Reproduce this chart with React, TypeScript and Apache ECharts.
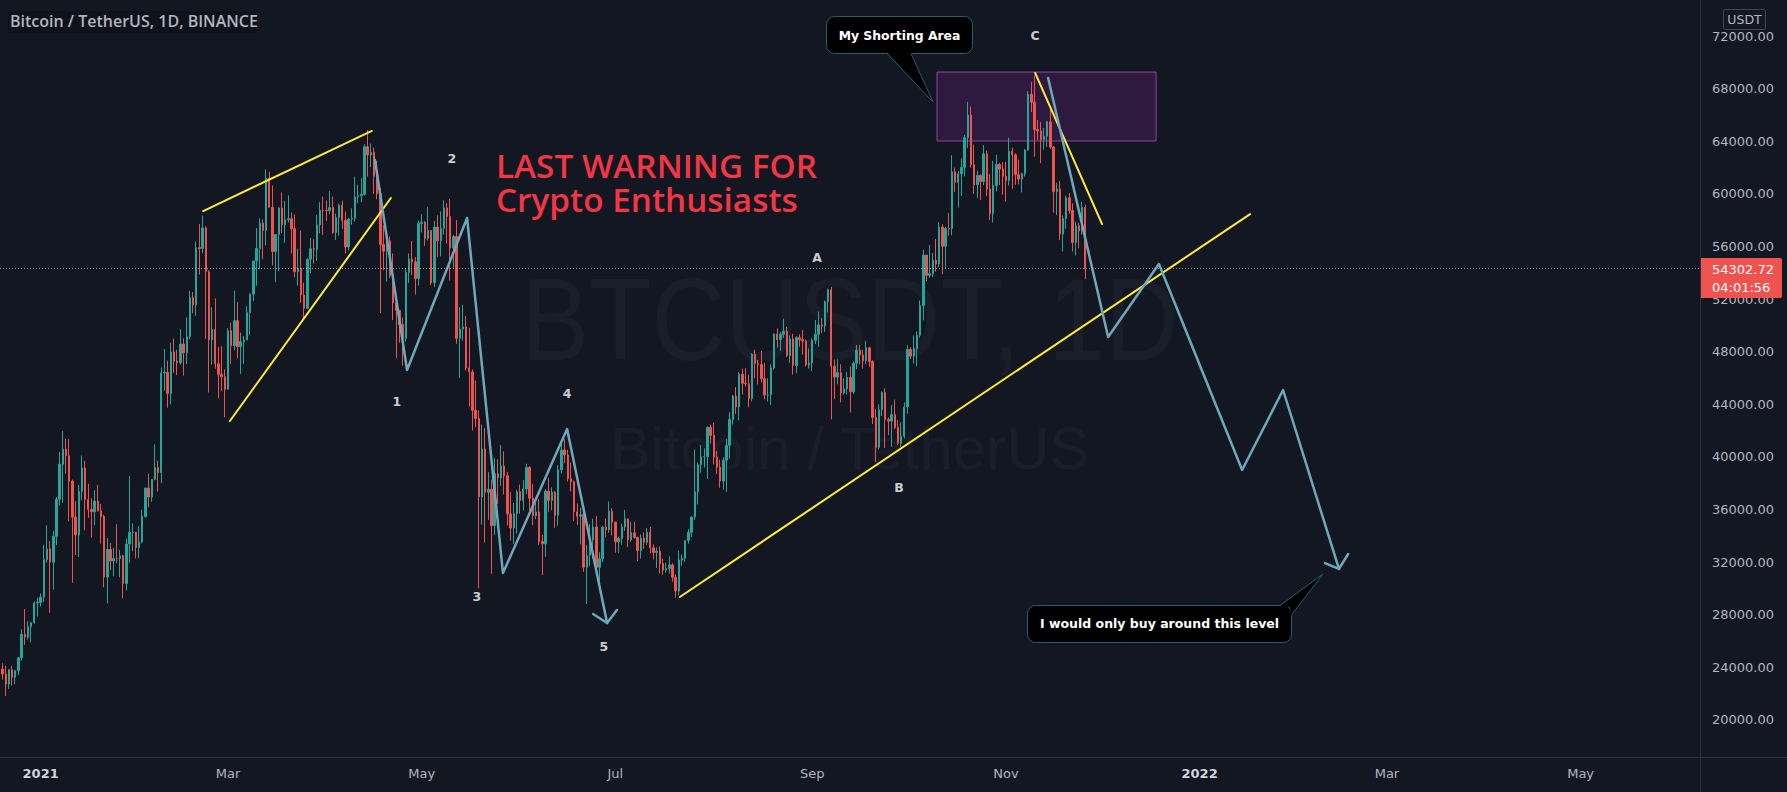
import React, { useEffect, useRef } from 'react';
import * as echarts from 'echarts';

// ---------------- DATA ----------------
// Daily BTCUSDT candles, each day as [close, high, low]; a day's open is the previous day's close.
const FIRST_DATE = '2020-12-20';
const FIRST_OPEN = 23860;
const AXIS_ORIGIN = '2021-01-01';

const dec2020 = [[23477,24295,23060],[22720,24102,21815],[23810,23837,22353],[23232,24100,22600],[23729,23789,22703],[24712,24789,23400],[26493,26867,24500],[26282,28422,25700],[27079,27500,26101],[27385,27410,25880],[28875,28996,27320],[28923,29300,27850]];
const jan2021 = [[29331,29600,28624],[32178,33300,28946],[33000,34778,31962],[31989,33600,28130],[33949,34360,29900],[36769,36939,33288],[39432,40365,36300],[40582,41950,36500],[40088,41380,38720],[38150,41350,35111],[35404,38264,30420],[34051,36628,32531],[37372,37850,32380],[39144,40100,36701],[36742,39700,34408],[35994,37950,35357],[35828,36852,33850],[36631,37469,34800],[35891,37850,35844],[35468,36415,33400],[30850,35600,30071],[32945,33826,28850],[32078,33456,31390],[32260,33071,30900],[32254,34875,31910],[32467,32921,30837],[30366,32557,29241],[33364,33783,29842],[34252,38531,31915],[34262,34933,32825],[33092,34288,32270]];
const feb2021 = [[33526,34717,32296],[35466,35984,33418],[37618,37662,35362],[36936,38708,36161],[38290,38310,36570],[39186,40955,38215],[38795,39700,37351],[46374,46794,37988],[46420,48200,45020],[44807,47310,43727],[47969,48678,43994],[47287,48985,46400],[47153,48150,46202],[48577,49707,47014],[47911,49010,46174],[49133,50600,47047],[52119,52618,48947],[51552,52530,50901],[55906,56368,50710],[55841,57700,53863],[57408,58352,55477],[54087,57533,48967],[48891,54183,44892],[49676,51374,47003],[47073,52041,46700],[46276,48370,44454],[46106,48394,45000],[45135,46638,43000]];
const mar2021 = [[49587,49790,45115],[48440,50200,47047],[50349,52640,48100],[48374,51773,47500],[48751,49448,46300],[48882,49200,47070],[50971,51450,48882],[52375,52402,49274],[54884,54900,51845],[55851,57387,53005],[57773,58150,54269],[57221,58058,55013],[61188,61844,56078],[58968,61683,58966],[55605,60633,54568],[56900,56938,53271],[58912,58981,54120],[57648,60100,57023],[58030,59468,56270],[58102,59880,57820],[57351,58589,55450],[54083,58430,53650],[54340,55830,53000],[52303,57200,51700],[51293,53229,50427],[55025,55073,51283],[55817,56640,53966],[55777,56559,54691],[57635,58405,54900],[58746,59368,57000],[58740,59800,56873]];
const apr2021 = [[58720,59490,57935],[58950,60200,58446],[57052,59792,56956],[58202,58493,56478],[59129,59250,56817],[57991,59474,57333],[55953,58650,55473],[58077,58153,55700],[58142,58894,57654],[59769,61300,57887],[59860,60687,59287],[59964,61200,59368],[63578,63777,59869],[62959,64854,61301],[63159,63821,62021],[61334,63520,60000],[60006,62506,59580],[56150,60445,50931],[55633,57600,54187],[56425,57074,53329],[53787,56757,53600],[51690,55460,50400],[51125,52131,47500],[50047,51167,48676],[49004,50591,46930],[54021,54356,48753],[55033,55460,53222],[54824,56428,53813],[53555,55195,52330],[57750,57963,53013]];
const may2021 = [[57828,58458,57052],[56610,57911,56035],[57213,58981,56440],[53241,57200,53046],[57473,57939,52900],[56428,58360,55200],[57380,58650,55241],[58928,59500,56900],[58280,59300,56235],[55883,59600,53400],[56750,56870,54370],[49007,58000,48600],[49716,51367,46000],[49880,51560,48825],[46760,50700,46555],[46456,49800,43825],[43538,46643,42001],[42909,45799,42250],[36964,43546,30000],[40596,42451,34850],[37304,42200,33488],[37536,38829,35200],[34770,38270,31111],[38705,39920,34037],[38402,39800,36420],[39294,40900,37800],[38556,40411,37134],[35658,38856,34779],[34584,37338,33632],[35678,36488,33379],[37341,37499,34153]];
const jun2021 = [[36677,37896,35666],[37556,38225,35920],[39188,39476,37170],[36856,39289,35555],[35520,37925,34800],[35797,36480,35258],[33552,36800,33300],[33380,34068,31000],[37388,37534,32397],[36675,38400,35782],[37314,37680,35936],[35546,37400,34600],[39020,39380,34757],[40516,41064,38730],[40144,41330,39506],[38349,40527,38116],[38092,39559,37365],[35820,38200,35129],[35483,36457,34803],[35600,36137,33336],[31608,35750,31251],[32510,33298,28805],[33678,34881,31683],[34664,35298,32286],[31594,35500,31275],[32243,32730,30151],[34649,34749,32003],[34434,35297,33862],[35867,36600,34225],[35041,36100,34017]];
const jul2021 = [[33543,35036,32711],[33786,33939,32699],[34669,34909,33310],[35286,35967,34357],[33690,35293,33125],[34220,35059,33542],[33862,35056,33770],[32875,33929,32077],[33815,34100,32261],[33502,34262,33005],[34259,34592,33300],[33086,34679,32658],[32730,33340,32202],[32820,33114,31550],[31880,33185,31133],[31383,32249,31020],[31520,31949,31179],[31778,32435,31108],[30839,31899,30509],[29790,31063,29278],[32144,32858,29482],[32287,32576,31708],[33634,33650,32000],[34258,34500,33402],[35425,35450,33881],[37337,40550,35205],[39406,39542,36383],[39995,40900,38772],[40008,40640,39200],[42236,42316,38313],[41626,42448,41000]];
const aug2021 = [[39975,42599,39422],[39201,40445,38690],[38153,39780,37642],[39747,39969,37508],[40870,41350,37332],[42836,43392,39853],[44614,44700,42450],[43792,45310,43261],[46285,46454,42779],[45593,46700,44742],[45555,46743,45341],[44428,46218,43770],[47793,47886,44217],[47097,48144,45971],[47019,47372,45500],[45936,48053,45660],[44696,47160,44376],[44705,45969,44203],[46760,47033,43955],[49339,49382,46622],[48905,49757,48300],[49321,49500,48050],[49546,50500,49034],[47706,49870,47600],[48960,49238,47150],[46942,49347,46250],[49058,49169,46363],[48903,49309,48370],[48807,49640,47768],[46991,48909,46870],[47130,48250,46700]];
const sep2021 = [[48847,49000,46512],[49327,50400,48584],[50026,51051,48371],[49944,50558,49412],[51789,51900,49500],[52698,52781,50969],[46894,52920,42843],[46060,47381,44412],[46400,47400,45514],[44851,47033,44132],[45171,45987,44722],[46026,46460,44750],[44940,46880,43370],[47111,47250,44750],[48122,48500,46671],[47737,48486,47026],[47299,48150,46700],[48292,48818,47044],[47242,48369,46850],[42986,47331,42500],[40716,43639,39600],[43574,44000,40570],[44895,44978,43090],[42839,45200,40675],[42716,42970,41646],[43208,43950,40750],[42235,44350,42098],[41034,42787,40888],[41564,42636,40753],[43790,44132,41410]];
const oct2021 = [[48165,48495,43283],[47657,48336,47430],[48233,49228,47088],[49245,49536,46891],[51493,51886,49056],[55340,55750,50382],[53797,55333,53357],[53926,56100,53617],[54949,55490,53661],[54659,56561,54080],[57471,57839,54415],[56005,57680,53879],[57367,57500,54300],[57347,58532,56818],[61672,62933,56850],[60875,62000,60150],[61528,61720,58963],[62010,62675,59844],[64262,64486,61322],[65992,67000,63481],[62210,66639,62000],[60692,63732,60000],[61393,61747,59668],[60930,61490,59522],[63040,63710,60650],[60363,63293,59817],[58482,61496,58000],[60622,62499,57820],[62227,62980,60174],[61888,62359,60673],[61319,62405,59945]];
const nov2021 = [[61004,62437,59405],[63227,64270,60624],[62970,63500,60382],[61452,63086,60677],[61125,62600,60721],[61527,61600,60111],[63326,63400,61322],[67566,67789,63300],[66971,68524,66222],[64882,69000,62822],[64774,65600,64100],[64122,65460,62333],[64381,65000,63360],[65466,65550,63576],[63557,66401,63400],[60161,63617,58574],[60368,60840,58373],[56942,60977,56474],[58119,58360,55600],[59697,59845,57353],[58731,60050,58479],[56289,59267,55610],[57569,57875,55317],[57177,57803,55837],[58961,59398,56900],[54302.72,59183,53500]];
const months = [dec2020, jan2021, feb2021, mar2021, apr2021, may2021, jun2021, jul2021, aug2021, sep2021, oct2021, nov2021];

// Axis ticks
const PRICE_TICKS = [20000, 24000, 28000, 32000, 36000, 40000, 44000, 48000, 52000, 56000, 60000, 64000, 68000, 72000];
const TIME_TICK_DATES = ['2021-01-01', '2021-03-01', '2021-05-01', '2021-07-01', '2021-09-01', '2021-11-01', '2022-01-01', '2022-03-01', '2022-05-01'];
const TIME_TICK_LABELS = ['2021', 'Mar', 'May', 'Jul', 'Sep', 'Nov', '2022', 'Mar', 'May'];

// Drawings, as [day since 2021-01-01, price]
const upperWedge = [[51.2, 58690], [104.3, 64780]];
const lowerWedge = [[59.6, 42720], [110.3, 59680]];
const supportLine = [[201.3, 29340], [380.9, 58460]];
const topLine = [[313.2, 69190], [334.3, 57700]];
const impulsePath = [[105.3, 62570], [115.4, 46600], [134.3, 58160], [145.6, 31160], [165.8, 42110], [178.4, 27360]];
const impulseArrow = [[174.0, 28050], [178.4, 27360], [181.5, 28350]];
const projectionPath = [[317.3, 68810], [336.2, 49110], [352.2, 54660], [378.4, 39000], [391.3, 45080], [408.9, 31470]];
const projectionArrow = [[404.5, 31920], [408.9, 31470], [411.8, 32610]];
const shortZone = [[282.3, 69260], [351.3, 64015]];
const waveLabelNames = ['1', '2', '3', '4', '5', 'A', 'B', 'C'];
const waveLabelPoints = [[112.2, 44170], [129.5, 62650], [137.4, 29340], [165.8, 44780], [177.4, 25610], [244.5, 55190], [270.3, 37700], [313.2, 72076]];

const LAST_PRICE = 54302.72;
const COUNTDOWN = '04:01:56';

// Visible ranges of the axes
const X_MIN = -12.8;
const X_MAX = 522.6;
const Y_MIN = 17171;
const Y_MAX = 74738;

// ---------------- HELPERS ----------------
const DAY_MS = 86400000;
const dayIndex = (s: string) => Math.round((Date.parse(s) - Date.parse(AXIS_ORIGIN)) / DAY_MS);

function buildCandles() {
  const out: number[][] = [];
  let d = dayIndex(FIRST_DATE);
  let open = FIRST_OPEN;
  for (const m of months) {
    for (const [c, h, l] of m) {
      out.push([d, open, c, l, h]);
      open = c;
      d += 1;
    }
  }
  return out;
}

const UP = '#26A69A';
const DOWN = '#EF5350';
const YELLOW = '#FFEB3B';
const STEEL = '#6FA8BA';
const AXIS_TEXT = '#B2B5BE';
const EDGE = '#22616E';
const BG = '#131722';

function lineSeries(data: number[][], color: string, width: number) {
  return {
    type: 'line',
    data,
    symbol: 'none',
    silent: true,
    z: 4,
    lineStyle: { color, width, cap: 'round', join: 'round' },
  };
}

function buildOption() {
  const tickDays = TIME_TICK_DATES.map(dayIndex);
  const candles = buildCandles();
  return {
    animation: false,
    backgroundColor: BG,
    grid: { left: 0, right: 87, top: 0, bottom: 35, containLabel: false, outerBoundsMode: 'none' },
    xAxis: {
      type: 'value',
      min: X_MIN,
      max: X_MAX,
      axisLine: { show: false },
      axisTick: { show: false },
      splitLine: { show: false },
      axisLabel: {
        customValues: tickDays,
        color: AXIS_TEXT,
        fontSize: 13,
        fontFamily: 'DejaVu Sans',
        margin: 10,
        formatter: (v: number) => {
          const i = tickDays.indexOf(Math.round(v));
          if (i < 0) return '';
          const t = TIME_TICK_LABELS[i];
          return /^\d{4}$/.test(t) ? '{yr|' + t + '}' : t;
        },
        rich: { yr: { color: '#D1D4DC', fontWeight: 'bold', fontSize: 13, fontFamily: 'DejaVu Sans' } },
      },
    },
    yAxis: {
      type: 'value',
      position: 'right',
      min: Y_MIN,
      max: Y_MAX,
      axisLine: { show: false },
      axisTick: { show: false },
      splitLine: { show: false },
      axisLabel: {
        customValues: PRICE_TICKS,
        color: AXIS_TEXT,
        fontSize: 13,
        fontFamily: 'DejaVu Sans',
        margin: 12,
        align: 'left',
        formatter: (v: number) => v.toFixed(2),
      },
    },
    series: [
      {
        type: 'candlestick',
        data: candles,
        barWidth: 1.9,
        z: 2,
        silent: true,
        itemStyle: { color: UP, color0: DOWN, borderColor: UP, borderColor0: DOWN, borderWidth: 1 },
        markLine: {
          silent: true,
          symbol: ['none', 'none'],
          label: { show: false },
          lineStyle: { color: 'rgba(190,193,200,0.75)', type: [1, 2], width: 1 },
          data: [{ yAxis: LAST_PRICE }],
        },
        markArea: {
          silent: true,
          itemStyle: { color: 'rgba(156,39,176,0.2)', borderColor: 'rgba(171,71,188,0.85)', borderWidth: 1 },
          data: [[{ coord: shortZone[0] }, { coord: shortZone[1] }]],
        },
      },
      lineSeries(upperWedge, YELLOW, 2),
      lineSeries(lowerWedge, YELLOW, 2),
      lineSeries(supportLine, YELLOW, 2),
      lineSeries(topLine, YELLOW, 2),
      lineSeries(impulsePath, STEEL, 2.5),
      lineSeries(impulseArrow, STEEL, 2.5),
      lineSeries(projectionPath, STEEL, 2.5),
      lineSeries(projectionArrow, STEEL, 2.5),
      {
        type: 'scatter',
        silent: true,
        z: 6,
        symbolSize: 1,
        itemStyle: { color: 'rgba(0,0,0,0)' },
        data: waveLabelPoints.map((p, i) => ({ name: waveLabelNames[i], value: p })),
        label: {
          show: true,
          position: 'inside',
          formatter: '{b}',
          color: '#FFFFFF',
          fontWeight: 'bold',
          fontSize: 12.5,
          fontFamily: 'DejaVu Sans',
        },
      },
    ],
    graphic: [
      // watermark
      { type: 'text', silent: true, z: 0, x: 850, y: 319, scaleY: 1.15,
        style: { text: 'BTCUSDT, 1D', fontSize: 102, fontFamily: 'Liberation Sans', fill: 'rgba(255,255,255,0.03)', align: 'center', verticalAlign: 'middle' } },
      { type: 'text', silent: true, z: 0, x: 850, y: 448,
        style: { text: 'Bitcoin / TetherUS', fontSize: 60, fontFamily: 'Liberation Sans', fill: 'rgba(255,255,255,0.03)', align: 'center', verticalAlign: 'middle' } },
      // pane separators
      { type: 'line', silent: true, z: 50, shape: { x1: 0, y1: 757.5, x2: 1787, y2: 757.5 }, style: { stroke: '#2E323E', lineWidth: 1 } },
      { type: 'line', silent: true, z: 50, shape: { x1: 1700.5, y1: 0, x2: 1700.5, y2: 792 }, style: { stroke: '#2E323E', lineWidth: 1 } },
      // title
      { type: 'rect', silent: true, z: 100, shape: { x: 8, y: 11, width: 248, height: 22 }, style: { fill: 'rgba(0,0,0,0.2)' } },
      { type: 'text', silent: true, z: 101, x: 10, y: 21,
        style: { text: 'Bitcoin / TetherUS, 1D, BINANCE', fontSize: 16, fontWeight: 600, fontFamily: 'Open Sans', fill: AXIS_TEXT, align: 'left', verticalAlign: 'middle' } },
      // headline (two lines in one text)
      { type: 'text', silent: true, z: 100, x: 496, y: 182,
        style: { text: 'LAST WARNING FOR\nCrypto Enthusiasts', fontSize: 33.3, lineHeight: 34.5, fontWeight: 600, fontFamily: 'Open Sans', fill: '#F23645', align: 'left', verticalAlign: 'middle' } },
      // callout: My Shorting Area
      { type: 'rect', silent: true, z: 100, shape: { x: 826.5, y: 16.5, width: 146, height: 37, r: 8 }, style: { fill: '#000000', stroke: EDGE, lineWidth: 1 } },
      { type: 'polygon', silent: true, z: 101, shape: { points: [[887, 52], [911, 52], [933, 102]] }, style: { fill: '#000000' } },
      { type: 'polyline', silent: true, z: 102, shape: { points: [[887, 53.5], [933, 102], [911, 53.5]] }, style: { stroke: EDGE, lineWidth: 1, fill: null } },
      { type: 'text', silent: true, z: 103, x: 899.5, y: 35,
        style: { text: 'My Shorting Area', fontSize: 12.4, fontWeight: 'bold', fontFamily: 'DejaVu Sans', fill: '#FFFFFF', align: 'center', verticalAlign: 'middle' } },
      // callout: I would only buy around this level
      { type: 'rect', silent: true, z: 100, shape: { x: 1027.5, y: 605.5, width: 264, height: 37, r: 8 }, style: { fill: '#000000', stroke: EDGE, lineWidth: 1 } },
      { type: 'polygon', silent: true, z: 101, shape: { points: [[1279, 607], [1323, 574], [1291, 616], [1290, 607]] }, style: { fill: '#000000' } },
      { type: 'polyline', silent: true, z: 102, shape: { points: [[1280, 605.5], [1323, 574], [1291.5, 615]] }, style: { stroke: EDGE, lineWidth: 1, fill: null } },
      { type: 'text', silent: true, z: 103, x: 1159.5, y: 623.5,
        style: { text: 'I would only buy around this level', fontSize: 12.5, fontWeight: 'bold', fontFamily: 'DejaVu Sans', fill: '#FFFFFF', align: 'center', verticalAlign: 'middle' } },
      // currency box
      { type: 'rect', silent: true, z: 100, shape: { x: 1723.5, y: 9.5, width: 42, height: 20, r: 2 }, style: { fill: BG, stroke: '#434651', lineWidth: 1 } },
      { type: 'text', silent: true, z: 101, x: 1744.5, y: 19.5,
        style: { text: 'USDT', fontSize: 12.5, fontFamily: 'DejaVu Sans', fill: AXIS_TEXT, align: 'center', verticalAlign: 'middle' } },
      // last price tag
      { type: 'rect', silent: true, z: 100, shape: { x: 1701, y: 258, width: 81, height: 40, r: [0, 2, 2, 0] }, style: { fill: DOWN } },
      { type: 'text', silent: true, z: 101, x: 1712, y: 278.5,
        style: { text: LAST_PRICE.toFixed(2) + '\n' + COUNTDOWN, fontSize: 13, lineHeight: 17.5, fontFamily: 'DejaVu Sans', fill: '#FFFFFF', align: 'left', verticalAlign: 'middle' } },
    ],
  };
}

export default function App() {
  const ref = useRef<HTMLDivElement>(null);
  useEffect(() => {
    if (!ref.current) return;
    const chart = echarts.init(ref.current, null, { renderer: 'svg' });
    chart.setOption(buildOption() as any);
    return () => chart.dispose();
  }, []);
  return <div ref={ref} style={{ position: 'absolute', left: 0, top: 0, width: 1787, height: 792 }} />;
}
